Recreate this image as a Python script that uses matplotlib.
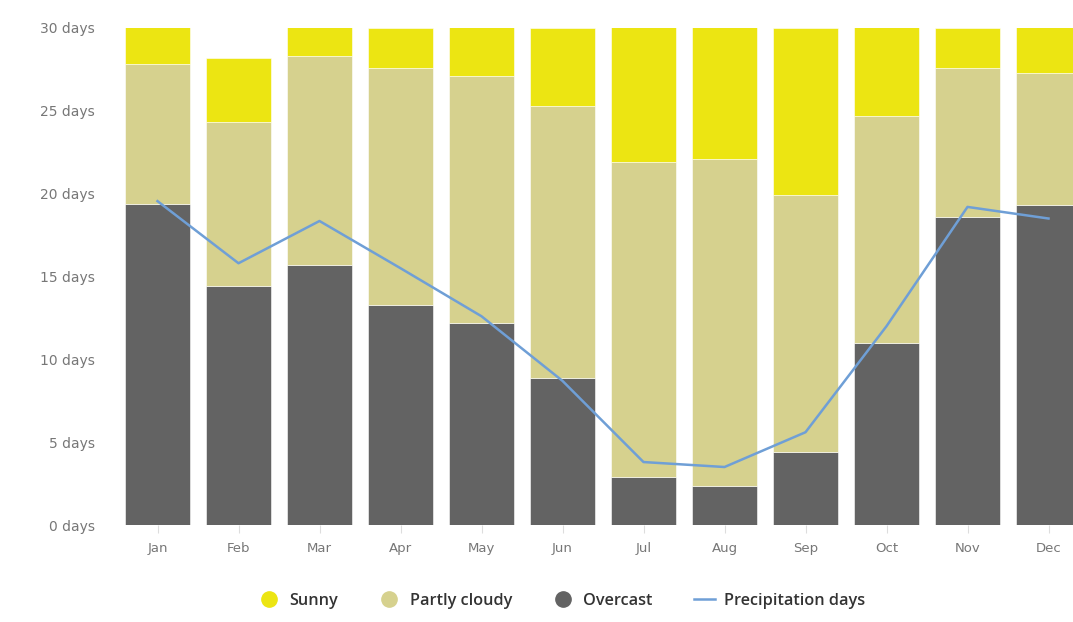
import matplotlib
matplotlib.use("Agg")
import matplotlib.pyplot as plt
from matplotlib.lines import Line2D
import numpy as np

months = ["Jan", "Feb", "Mar", "Apr", "May", "Jun",
          "Jul", "Aug", "Sep", "Oct", "Nov", "Dec"]
overcast = [19.4, 14.4, 15.7, 13.3, 12.2, 8.9, 2.9, 2.35, 4.4, 11.0, 18.6, 19.3]
partly_cloudy = [8.4, 9.9, 12.6, 14.3, 14.9, 16.4, 19.0, 19.75, 15.5, 13.7, 9.0, 8.0]
sunny = [3.2, 3.9, 2.7, 2.4, 3.9, 4.7, 9.1, 8.9, 10.1, 6.3, 2.4, 3.7]
precipitation = [19.55, 15.8, 18.35, 15.5, 12.6, 8.7, 3.8, 3.5, 5.6, 12.0, 19.2, 18.5]
yticks = [0, 5, 10, 15, 20, 25, 30]

c_sunny = "#ece512"
c_partly = "#d6d18e"
c_over = "#636363"
c_line = "#6f9fd6"
c_text = "#777777"

fig = plt.figure(figsize=(10.73, 6.22), dpi=100)
ax = fig.add_axes([117 / 1073, 97 / 622, 972 / 1073, 497 / 622])

x = np.arange(len(months))
w = 0.8
ov = np.array(overcast)
pc = np.array(partly_cloudy)
su = np.array(sunny)
ax.bar(x, ov, w, color=c_over, edgecolor="white", linewidth=0.4, zorder=2)
ax.bar(x, pc, w, bottom=ov, color=c_partly, edgecolor="white", linewidth=0.4, zorder=2)
ax.bar(x, su, w, bottom=ov + pc, color=c_sunny, edgecolor="white", linewidth=0.4, zorder=2)
ax.plot(x, precipitation, color=c_line, linewidth=1.8, zorder=3)

ax.set_xlim(-0.5, 11.5)
ax.set_ylim(0, 30)
ax.set_yticks(yticks)
ax.set_yticklabels([f"{v} days" for v in yticks], fontsize=10, color=c_text)
ax.set_xticks(x)
ax.set_xticklabels(months, fontsize=9.5, color=c_text)
ax.tick_params(axis="y", length=0, pad=16)
ax.tick_params(axis="x", length=6, color="#dddddd", pad=6)
for s in ax.spines.values():
    s.set_visible(False)
ax.set_facecolor("white")

handles = [
    Line2D([], [], marker="o", linestyle="none", markersize=11,
           markerfacecolor=c_sunny, markeredgecolor=c_sunny),
    Line2D([], [], marker="o", linestyle="none", markersize=11,
           markerfacecolor=c_partly, markeredgecolor=c_partly),
    Line2D([], [], marker="o", linestyle="none", markersize=11,
           markerfacecolor=c_over, markeredgecolor=c_over),
    Line2D([], [], color=c_line, linewidth=1.8),
]
labels = ["Sunny", "Partly cloudy", "Overcast", "Precipitation days"]
fig.legend(handles, labels, loc="center", bbox_to_anchor=(562 / 1073, 1 - 601 / 622),
           ncol=4, frameon=False, handlelength=1.3,
           handletextpad=0.6, columnspacing=2.5,
           prop={"family": "Open Sans", "weight": "semibold", "size": 11.7},
           labelcolor="#333333")

fig.savefig("out.png", dpi=100)
